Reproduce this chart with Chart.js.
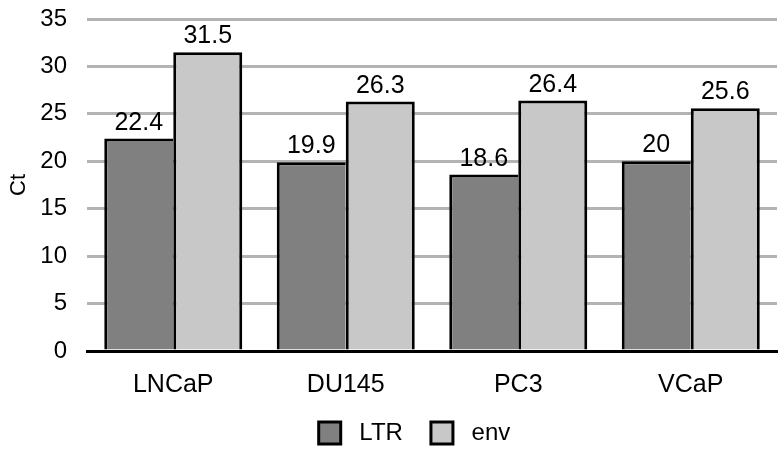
<!DOCTYPE html>
<html>
<head>
<meta charset="utf-8">
<script src="https://cdn.jsdelivr.net/npm/chart.js@4"></script>
<style>
  body { margin: 0; background: #fff; }
  #wrap { width: 784px; height: 455px; }
</style>
</head>
<body>
<div id="wrap"><canvas id="myChart" width="784" height="455"></canvas></div>
<script>
// data
var categories = ['LNCaP', 'DU145', 'PC3', 'VCaP'];
var ltrValues = [22.4, 19.9, 18.6, 20];
var envValues = [31.5, 26.3, 26.4, 25.6];
var yTicks = [0, 5, 10, 15, 20, 25, 30, 35];

var FONT = '"Liberation Sans", Arial, sans-serif';

// draw the value above each bar
var valueLabels = {
    id: 'valueLabels',
    afterDatasetsDraw: function(chart) {
        var ctx = chart.ctx;
        ctx.save();
        ctx.font = '25px ' + FONT;
        ctx.fillStyle = '#000';
        ctx.textAlign = 'center';
        ctx.textBaseline = 'alphabetic';
        chart.data.datasets.forEach(function(ds, i) {
            chart.getDatasetMeta(i).data.forEach(function(bar, j) {
                ctx.fillText(String(ds.data[j]), bar.x, bar.y - 9);
            });
        });
        ctx.restore();
    }
};

// the legend sits a bit right of the canvas centre in the original
var legendShift = {
    id: 'legendShift',
    afterLayout: function(chart) {
        if (chart.legend) {
            chart.legend.left += 26;
            chart.legend.right += 26;
        }
    }
};

window.onload = function() {
    var ctx = document.getElementById('myChart').getContext('2d');
    new Chart(ctx, {
        type: 'bar',
        data: {
            labels: categories,
            datasets: [{
                label: 'LTR',
                data: ltrValues,
                backgroundColor: '#808080',
                borderColor: '#000',
                borderWidth: { top: 3, left: 3, right: 0, bottom: 0 },
                borderSkipped: false
            }, {
                label: 'env',
                data: envValues,
                backgroundColor: '#c8c8c8',
                borderColor: '#000',
                borderWidth: { top: 3, left: 3, right: 3, bottom: 0 },
                borderSkipped: false
            }]
        },
        options: {
            responsive: false,
            animation: false,
            layout: { padding: { top: 19, right: 7, left: 0, bottom: 0 } },
            datasets: { bar: { categoryPercentage: 0.8, barPercentage: 1 } },
            plugins: {
                legend: {
                    position: 'bottom',
                    labels: {
                        boxWidth: 22,
                        boxHeight: 22,
                        padding: 8,
                        color: '#000',
                        font: { size: 24, family: FONT },
                        generateLabels: function(chart) {
                            var items = Chart.defaults.plugins.legend.labels.generateLabels(chart);
                            items.forEach(function(it, i) {
                                it.lineWidth = 3;
                                it.strokeStyle = '#000';
                                it.text = ' ' + it.text + (i < items.length - 1 ? '   ' : '');
                            });
                            return items;
                        }
                    }
                },
                tooltip: { enabled: false }
            },
            scales: {
                x: {
                    grid: { display: false },
                    border: { color: '#000', width: 3 },
                    afterFit: function(axis) { axis.height = 62; },
                    ticks: {
                        color: '#000',
                        padding: 11,
                        font: { size: 25, family: FONT }
                    }
                },
                y: {
                    min: 0,
                    max: 35,
                    afterBuildTicks: function(axis) {
                        axis.ticks = yTicks.map(function(v) { return { value: v }; });
                    },
                    afterFit: function(axis) {
                        axis.width = 87;
                        axis.paddingTop = 0;
                        axis.paddingBottom = 0;
                    },
                    grid: { color: '#b3b3b3', lineWidth: 3, drawTicks: false },
                    border: { display: false },
                    title: {
                        display: true,
                        text: 'Ct',
                        color: '#000',
                        padding: { top: 6, bottom: 8 },
                        font: { size: 22, family: FONT }
                    },
                    ticks: {
                        color: '#000',
                        padding: 20,
                        font: { size: 24, family: FONT }
                    }
                }
            }
        },
        plugins: [valueLabels, legendShift]
    });
};
</script>
</body>
</html>
